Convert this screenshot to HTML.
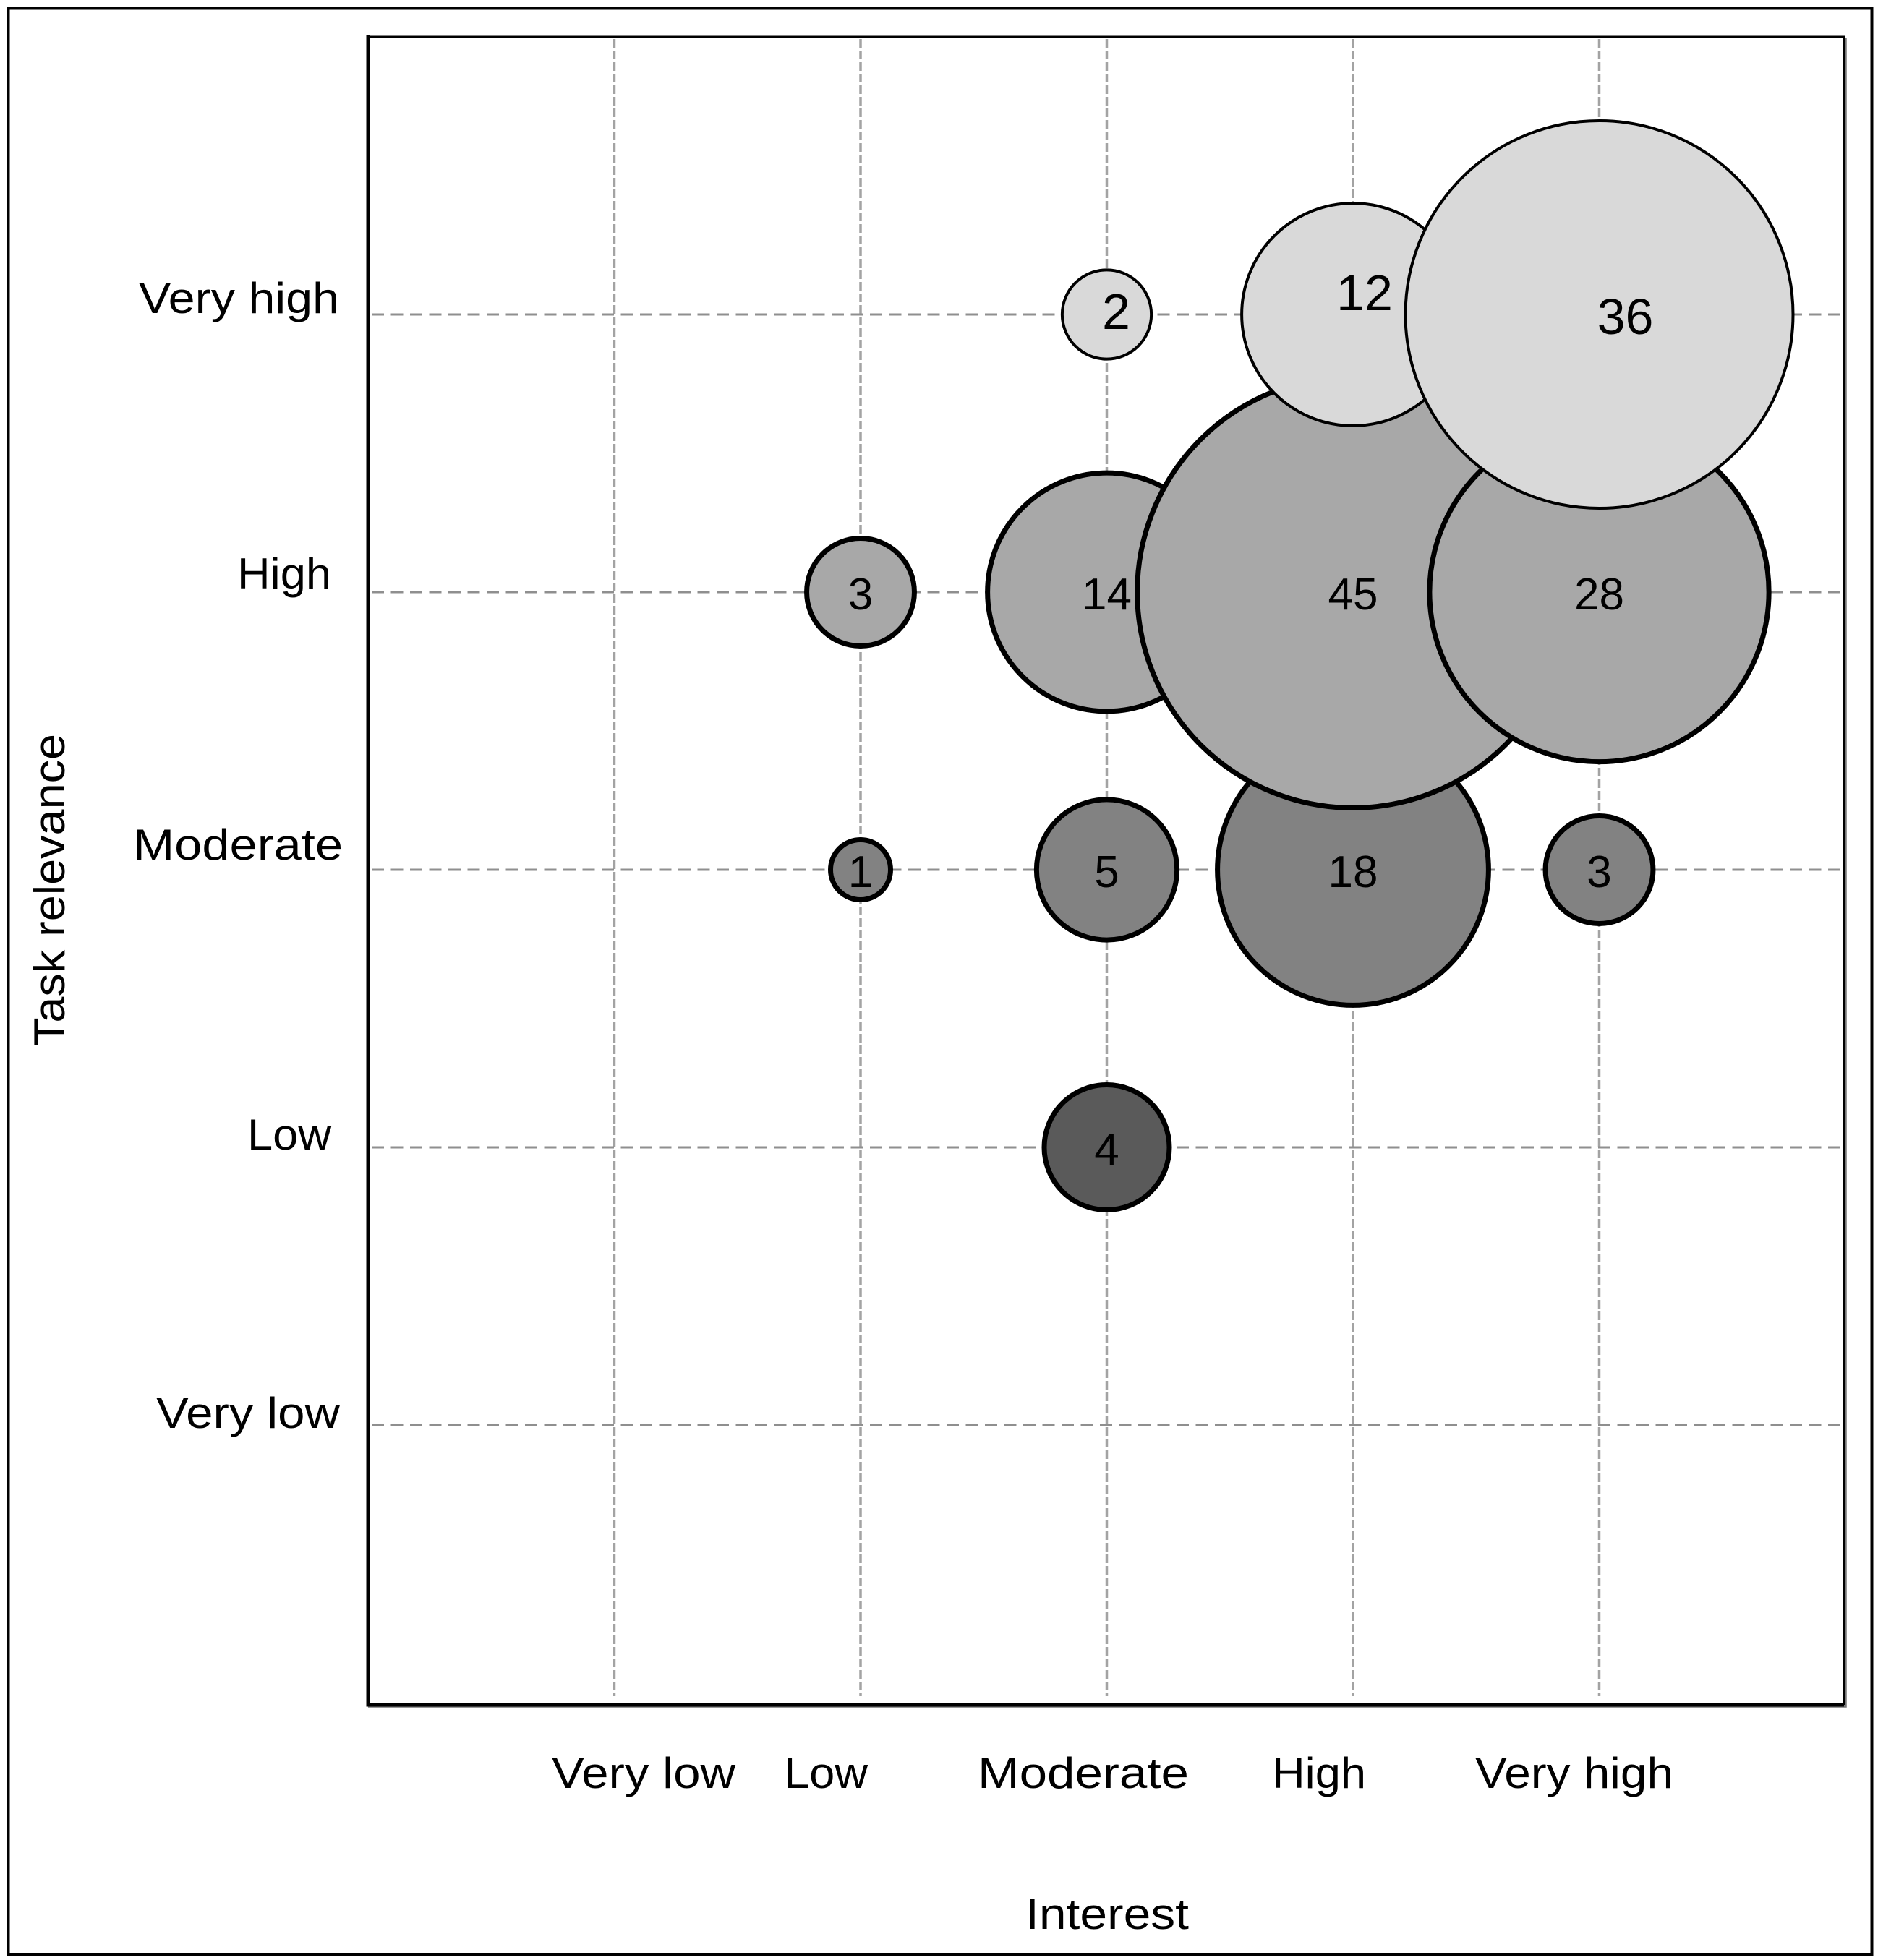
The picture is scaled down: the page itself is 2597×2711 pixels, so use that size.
<!DOCTYPE html>
<html lang="en">
<head>
<meta charset="utf-8">
<title>Task relevance by interest bubble chart</title>
<style>
html,body{margin:0;padding:0;background:#fff;width:2597px;height:2711px;overflow:hidden}
svg{display:block}
text{font-family:"Liberation Sans",sans-serif;fill:#000}
</style>
</head>
<body>
<svg id="chart" xmlns="http://www.w3.org/2000/svg" width="2597" height="2711" viewBox="0 0 2597 2711">
  <rect x="11.5" y="11.5" width="2577" height="2692" fill="#fff" stroke="#000" stroke-width="4"/>
  <g id="grid"></g>
  <g id="bubbles"></g>
  <path d="M509 2360.5H2552.5V52" fill="none" stroke="#777" stroke-width="2.5"/>
  <rect x="509" y="51" width="2040.5" height="2306" fill="none" stroke="#000" stroke-width="3"/>
  <path d="M509 49V2358H2550" fill="none" stroke="#000" stroke-width="5"/>
  <g id="ticks"></g>
  <text x="1418" y="2668" font-size="60" textLength="226" lengthAdjust="spacingAndGlyphs">Interest</text>
  <text transform="translate(89 1447) rotate(-90)" x="0" y="0" font-size="60" textLength="432" lengthAdjust="spacingAndGlyphs">Task relevance</text>
</svg>
<script>
// Chart data
const interestLabels = ["Very low", "Low", "Moderate", "High", "Very high"];
const relevanceLabels = ["Very low", "Low", "Moderate", "High", "Very high"];
const xTicks = [1, 2, 3, 4, 5];
const yTicks = [1, 2, 3, 4, 5];
// Bubble series, in paint order (1 = Very low ... 5 = Very high)
const bubbleInterest = [3, 2, 3, 5, 4, 2, 3, 4, 5, 3, 4, 5];
const bubbleRelevance = [2, 3, 3, 3, 3, 4, 4, 4, 4, 5, 5, 5];
const bubbleCounts = [4, 1, 5, 3, 18, 3, 14, 45, 28, 2, 12, 36];

// Axis functions
function xScale(v) { return 509 + v * 340.5; }
function yScale(v) { return 2355 - v * 384; }
function radiusScale(n) { return 45 * Math.sqrt(n); }

const SVG_NS = "http://www.w3.org/2000/svg";
const gridLayer = document.getElementById("grid");
const bubbleLayer = document.getElementById("bubbles");
const tickLayer = document.getElementById("ticks");

function make(tag, props) {
  const el = document.createElementNS(SVG_NS, tag);
  for (const key in props) el.setAttribute(key, props[key]);
  return el;
}
function slug(s) { return s.toLowerCase().replace(/\s+/g, "-"); }

// Gridlines
xTicks.forEach(function (t, i) {
  const x = xScale(t);
  const line = make("line", { x1: x, x2: x, y1: 54, y2: 2346, stroke: "#a3a3a3", "stroke-width": 3.5, "stroke-dasharray": "12 4" });
  
  
  gridLayer.appendChild(line);
});
yTicks.forEach(function (t, i) {
  const y = yScale(t);
  const line = make("line", { x1: 514, x2: 2548, y1: y, y2: y, stroke: "#8f8f8f", "stroke-width": 3, "stroke-dasharray": "17 9.5" });
  
  
  gridLayer.appendChild(line);
});

// Row styling depends only on the relevance level
function rowFill(level) {
  if (level >= 5) return "#d9d9d9";
  if (level === 4) return "#a8a8a8";
  if (level === 3) return "#828282";
  return "#5a5a5a";
}
function rowStroke(level) { return level >= 5 ? 4 : 7; }

// Hand-placed value labels in the source that sit away from the bubble centre
function labelOffsetX(interest, relevance, n) {
  if (relevance === 5 && interest === 3) return 13;
  if (relevance === 5 && interest === 4) return 16;
  if (relevance === 5 && interest === 5) return 36;
  return 0;
}
function labelBaselineY(relevance, interest) {
  if (relevance === 5 && interest === 3) return 20;
  if (relevance === 5 && interest === 4) return -6;
  return relevance === 5 ? 27 : 24;
}

bubbleCounts.forEach(function (n, i) {
  const ix = bubbleInterest[i];
  const iy = bubbleRelevance[i];
  const cx = xScale(ix);
  const cy = yScale(iy);
  const sw = rowStroke(iy);
  const circle = make("circle", { cx: cx, cy: cy, r: radiusScale(n) - sw / 2, fill: rowFill(iy), stroke: "#000", "stroke-width": sw });
  
  
  bubbleLayer.appendChild(circle);
});
// Value labels are drawn per bubble, directly after the bubbles that overlap them
bubbleCounts.forEach(function (n, i) {
  const ix = bubbleInterest[i];
  const iy = bubbleRelevance[i];
  const label = make("text", {
    x: xScale(ix) + labelOffsetX(ix, iy, n),
    y: yScale(iy) + labelBaselineY(iy, ix),
    "font-size": iy === 5 ? 70 : 62,
    "text-anchor": "middle"
  });
  label.textContent = String(n);
  
  
  bubbleLayer.appendChild(label);
});

// Tick labels: the source places each by hand, so each has its own left edge and width
function xLabelBox(label) {
  if (label === "Very low") return { left: 763, width: 254 };
  if (label === "Low") return { left: 1084, width: 116 };
  if (label === "Moderate") return { left: 1352, width: 292 };
  if (label === "High") return { left: 1759, width: 130 };
  return { left: 2040, width: 274 };
}
function yLabelBox(label) {
  if (label === "Very low") return { left: 216, width: 254, dy: 4 };
  if (label === "Low") return { left: 342, width: 116, dy: 3 };
  if (label === "Moderate") return { left: 184, width: 290, dy: -14 };
  if (label === "High") return { left: 328, width: 130, dy: -5 };
  return { left: 192, width: 277, dy: -2 };
}
interestLabels.forEach(function (name) {
  const box = xLabelBox(name);
  const t = make("text", { x: box.left, y: 2473, "font-size": 60, textLength: box.width, lengthAdjust: "spacingAndGlyphs" });
  t.textContent = name;
  
  
  tickLayer.appendChild(t);
});
relevanceLabels.forEach(function (name, i) {
  const box = yLabelBox(name);
  const t = make("text", { x: box.left, y: yScale(yTicks[i]) + box.dy, "font-size": 60, textLength: box.width, lengthAdjust: "spacingAndGlyphs" });
  t.textContent = name;
  
  
  tickLayer.appendChild(t);
});
</script>
</body>
</html>
